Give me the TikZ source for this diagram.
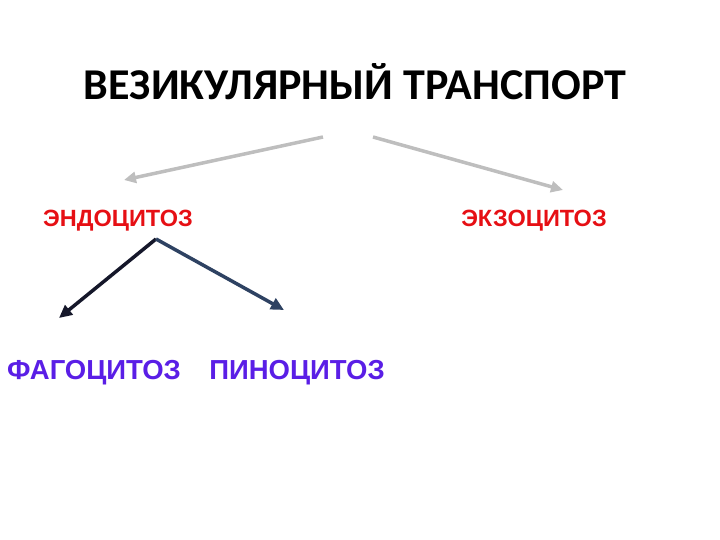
\documentclass[tikz,border=0pt]{standalone}
\usepackage{fontspec}
\setmainfont{Liberation Sans}
\newfontfamily\headfont{Carlito}
\usetikzlibrary{arrows.meta, positioning}
\definecolor{ArrowGrey}{HTML}{BEBEBE}
\definecolor{InkDark}{HTML}{15172A}
\definecolor{InkSlate}{HTML}{2E4262}
\definecolor{TermRed}{HTML}{E60F14}
\definecolor{TermViolet}{HTML}{5A1EE6}
\tikzset{
  % Text styles
  headtext/.style={inner sep=0pt, font=\headfont\fontsize{44}{48}\selectfont\bfseries, text=black},
  kindtext/.style={inner sep=0pt, font=\bfseries\fontsize{23.5}{27}\selectfont, text=TermRed},
  subtext/.style={inner sep=0pt, font=\bfseries\fontsize{27.5}{31}\selectfont, text=TermViolet},
  % Arrow styles
  greyarrow/.style={-{Triangle[length=12pt,width=11pt]}, line width=3.5pt, ArrowGrey},
  darkarrow/.style={-{Triangle[length=13pt,width=12pt]}, line width=3.5pt, InkDark},
  slatearrow/.style={-{Triangle[length=13pt,width=12pt]}, line width=3.5pt, InkSlate}
}
\begin{document}
\begin{tikzpicture}[x=1pt, y=-1pt]
  \useasboundingbox (0,0) rectangle (720,540);
  % Terms
  \node[headtext] (vesicular) at (355,82) {ВЕЗИКУЛЯРНЫЙ ТРАНСПОРТ};
  \node[kindtext] (endo) at (118,221) {ЭНДОЦИТОЗ};
  \node[kindtext] (exo) at (534,221) {ЭКЗОЦИТОЗ};
  \node[subtext] (phago) at (94,373) {ФАГОЦИТОЗ};
  \node[subtext] (pino) at (297,373) {ПИНОЦИТОЗ};

  % Arrow ends
  \coordinate (splitL) at (323,137);
  \coordinate (splitR) at (373,137);
  \coordinate (endoTip) at (124,180);
  \coordinate (exoTip) at (563,190);
  \coordinate (endoFoot) at (156,239);
  \coordinate (phagoTip) at (59,318);
  \coordinate (pinoTip) at (284,310);

  \draw[greyarrow] (splitL) -- (endoTip);
  \draw[greyarrow] (splitR) -- (exoTip);
  \draw[darkarrow] (endoFoot) -- (phagoTip);
  \draw[slatearrow] (endoFoot) -- (pinoTip);
\end{tikzpicture}
\end{document}
